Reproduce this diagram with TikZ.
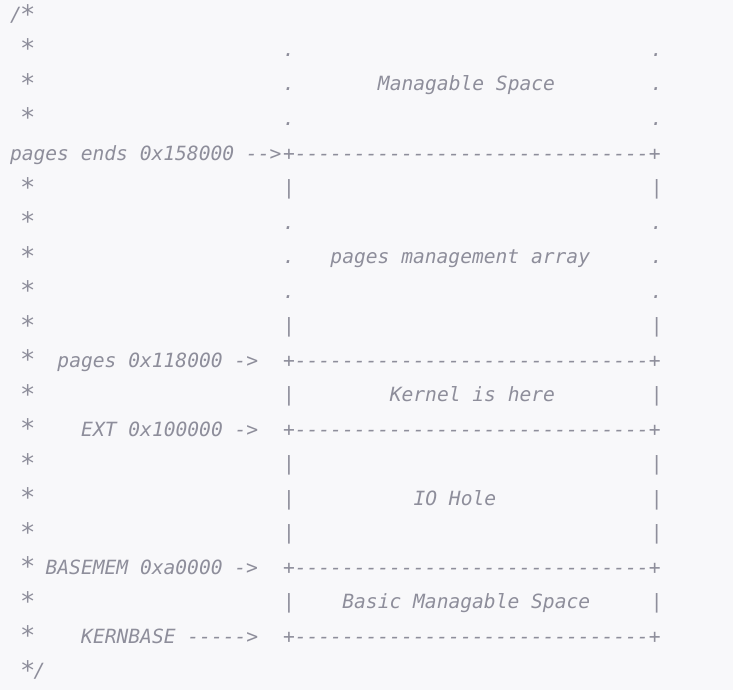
\documentclass[tikz,border=0pt]{standalone}
\usepackage{fontspec}
\setmonofont{DejaVu Sans Mono}
\definecolor{codebg}{HTML}{F8F8FA}
\definecolor{codefg}{HTML}{8E8E9B}
\tikzset{
  txt/.style={anchor=base west, inner sep=0pt, outer sep=0pt, text=codefg,
    font=\fontsize{19.6pt}{22pt}\ttfamily\itshape}
}
\newcommand{\bord}{+------------------------------+}
\newcommand{\sta}{\makebox[11.87pt][c]{\raisebox{-1.5pt}{\scalebox{1.3}{*}}}}
\begin{document}
\begin{tikzpicture}[x=1pt,y=1pt]
\useasboundingbox (0,0) rectangle (733,-690);
\fill[codebg] (0,0) rectangle (733,-690);
\begin{scope}[shift={(10,-22)},x=11.87pt,y=-34.5pt]
% row 0
\node[txt] (open) at (0,0) {/\sta};
% rows 1-3
\node[txt] (s1) at (1,1) {\sta};
\node[txt] (d1l) at (23,1) {.};
\node[txt] (d1r) at (54,1) {.};
\node[txt] (s2) at (1,2) {\sta};
\node[txt] (d2l) at (23,2) {.};
\node[txt] (manage) at (31,2) {Managable Space};
\node[txt] (d2r) at (54,2) {.};
\node[txt] (s3) at (1,3) {\sta};
\node[txt] (d3l) at (23,3) {.};
\node[txt] (d3r) at (54,3) {.};
% row 4
\node[txt] (pend) at (0,4) {pages ends 0x158000 -->};
\node[txt] (b4) at (23,4) {\bord};
% rows 5-9
\node[txt] (s5) at (1,5) {\sta};
\node[txt] (p5l) at (23,5) {|};
\node[txt] (p5r) at (54,5) {|};
\node[txt] (s6) at (1,6) {\sta};
\node[txt] (d6l) at (23,6) {.};
\node[txt] (d6r) at (54,6) {.};
\node[txt] (s7) at (1,7) {\sta};
\node[txt] (d7l) at (23,7) {.};
\node[txt] (pma) at (27,7) {pages management array};
\node[txt] (d7r) at (54,7) {.};
\node[txt] (s8) at (1,8) {\sta};
\node[txt] (d8l) at (23,8) {.};
\node[txt] (d8r) at (54,8) {.};
\node[txt] (s9) at (1,9) {\sta};
\node[txt] (p9l) at (23,9) {|};
\node[txt] (p9r) at (54,9) {|};
% row 10
\node[txt] (s10) at (1,10) {\sta};
\node[txt] (pages) at (4,10) {pages 0x118000 ->};
\node[txt] (b10) at (23,10) {\bord};
% row 11
\node[txt] (s11) at (1,11) {\sta};
\node[txt] (p11l) at (23,11) {|};
\node[txt] (kernel) at (32,11) {Kernel is here};
\node[txt] (p11r) at (54,11) {|};
% row 12
\node[txt] (s12) at (1,12) {\sta};
\node[txt] (ext) at (6,12) {EXT 0x100000 ->};
\node[txt] (b12) at (23,12) {\bord};
% rows 13-15
\node[txt] (s13) at (1,13) {\sta};
\node[txt] (p13l) at (23,13) {|};
\node[txt] (p13r) at (54,13) {|};
\node[txt] (s14) at (1,14) {\sta};
\node[txt] (p14l) at (23,14) {|};
\node[txt] (iohole) at (34,14) {IO Hole};
\node[txt] (p14r) at (54,14) {|};
\node[txt] (s15) at (1,15) {\sta};
\node[txt] (p15l) at (23,15) {|};
\node[txt] (p15r) at (54,15) {|};
% row 16
\node[txt] (s16) at (1,16) {\sta};
\node[txt] (basemem) at (3,16) {BASEMEM 0xa0000 ->};
\node[txt] (b16) at (23,16) {\bord};
% row 17
\node[txt] (s17) at (1,17) {\sta};
\node[txt] (p17l) at (23,17) {|};
\node[txt] (basic) at (28,17) {Basic Managable Space};
\node[txt] (p17r) at (54,17) {|};
% row 18
\node[txt] (s18) at (1,18) {\sta};
\node[txt] (kernbase) at (6,18) {KERNBASE ----->};
\node[txt] (b18) at (23,18) {\bord};
% row 19
\node[txt] (close) at (1,19) {\sta/};
\end{scope}
\end{tikzpicture}
\end{document}
